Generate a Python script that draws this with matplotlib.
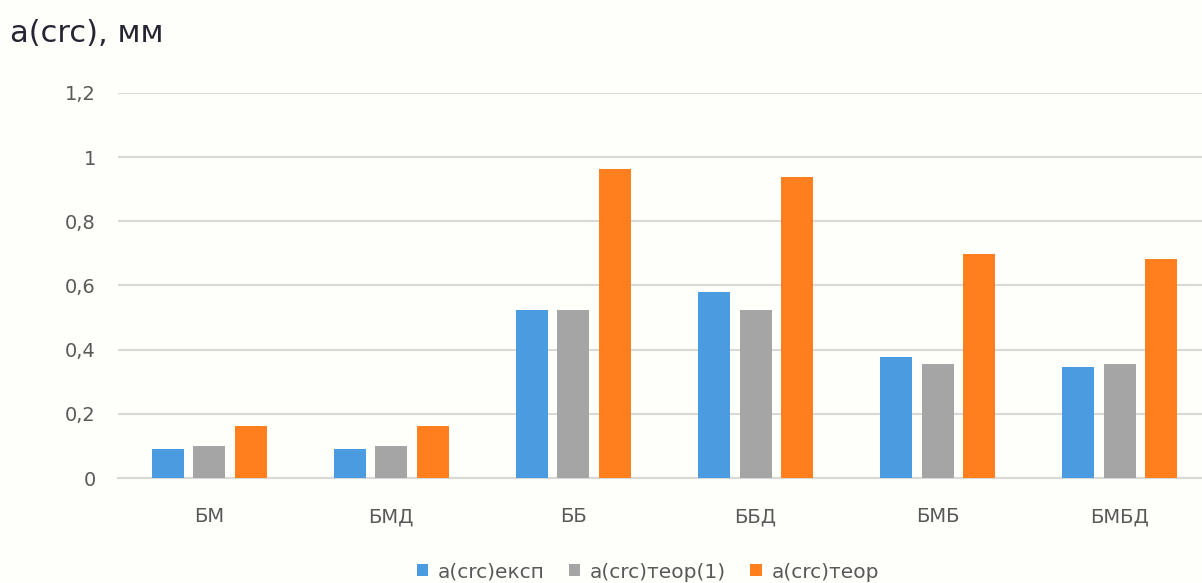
import matplotlib
matplotlib.use("Agg")
import matplotlib.pyplot as plt
import numpy as np

categories = ["БМ", "БМД", "ББ", "ББД", "БМБ", "БМБД"]
a_eksp = [0.09, 0.09, 0.523, 0.579, 0.378, 0.347]
a_teor1 = [0.099, 0.099, 0.523, 0.523, 0.354, 0.354]
a_teor = [0.163, 0.163, 0.962, 0.939, 0.698, 0.682]
series_names = ["a(crc)експ", "a(crc)теор(1)", "a(crc)теор"]
series_colors = ["#4A9BE0", "#A5A5A5", "#FF7F1F"]
yticks = [0, 0.2, 0.4, 0.6, 0.8, 1.0, 1.2]
ytick_labels = ["0", "0,2", "0,4", "0,6", "0,8", "1", "1,2"]

plt.rcParams["font.family"] = ["DejaVu Sans"]
bg = "#FEFEFB"

fig = plt.figure(figsize=(12.02, 5.83), dpi=100, facecolor=bg)
ax = fig.add_axes([0.0982, 0.1801, 0.9093, 0.6604], facecolor=bg)

x = np.arange(len(categories))
offsets = [-0.228, 0.0, 0.228]
width = 0.176
for vals, off, name, col in zip([a_eksp, a_teor1, a_teor], offsets, series_names, series_colors):
    ax.bar(x + off, vals, width, color=col, label=name, zorder=3)

ax.set_xlim(-0.5, len(categories) - 0.5)
ax.set_ylim(0, 1.2)
ax.set_yticks(yticks)
ax.set_yticklabels(ytick_labels)
ax.set_xticks(x)
ax.set_xticklabels(categories)
ax.grid(axis="y", color="#D9D9D9", linewidth=1.5, zorder=0)
ax.tick_params(axis="y", length=0, pad=16, labelsize=14, labelcolor="#595959")
ax.tick_params(axis="x", length=0, pad=21, labelsize=14, labelcolor="#595959")
for s in ["top", "right", "left"]:
    ax.spines[s].set_visible(False)
ax.spines["bottom"].set_color("#D9D9D9")
ax.spines["bottom"].set_linewidth(1.5)

fig.text(10 / 1202, 1 - 33 / 583, "a(crc), мм", fontsize=22, color="#262633",
         ha="left", va="center")

fig.legend(loc="center", bbox_to_anchor=(648 / 1202, 1 - 572 / 583), ncol=3,
           frameon=False, fontsize=14.5, handlelength=0.55, handleheight=0.55,
           handletextpad=0.5, columnspacing=1.2, labelcolor="#595959")

fig.savefig("out.png", dpi=100, facecolor=bg)
